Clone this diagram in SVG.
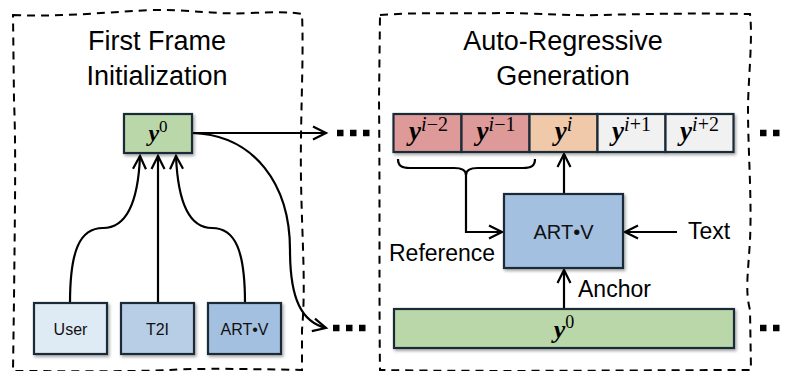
<svg xmlns="http://www.w3.org/2000/svg" width="786" height="371" viewBox="0 0 786 371">
<style>
.frame{fill:none;stroke:#000;stroke-width:2;stroke-dasharray:8 6}
.title{font-family:"Liberation Sans",Arial,sans-serif;font-size:27px;fill:#000;text-anchor:middle}
.lbl{font-family:"Liberation Sans",Arial,sans-serif;font-size:23px;fill:#000}
.box{stroke:#1c2a38;stroke-width:2.2}
.btxt{font-family:"Liberation Sans",Arial,sans-serif;font-size:16px;fill:#111;text-anchor:middle}
.math{font-family:"Liberation Serif","Times New Roman",serif;fill:#000;text-anchor:middle}
.v{font-weight:bold;font-style:italic}
.sup{font-weight:normal}
.conn path,.conn line{fill:none;stroke:#000;stroke-width:2.2}
.conn .dots{stroke:#000;stroke-width:6.5;stroke-dasharray:6.5 6.5;fill:none}
</style>
<defs>
<marker id="ah" markerUnits="userSpaceOnUse" markerWidth="18" markerHeight="18" refX="14" refY="8" orient="auto">
<path d="M1,1.5 L14,8 L1,14.5" fill="none" stroke="#000" stroke-width="2.2" stroke-linejoin="miter"/>
</marker>
<filter id="sh" x="-10%" y="-10%" width="130%" height="140%">
<feDropShadow dx="1.5" dy="2" stdDeviation="1.5" flood-color="#000" flood-opacity="0.35"/>
</filter>
</defs>

<!-- panels -->
<g id="panel-first">
<path class="frame" d="M13,15 C60,17 95,13 150,10 C190,9 215,15 250,13 C275,12 292,12 302,14 C304,60 300,120 301,180 C302,240 306,285 302,330 L302,370 C250,369 200,368 170,370 C120,372 60,371 13,371 L14,300 C15,200 16,150 14,100 Z"/>
<text class="title" x="157" y="50">First Frame</text>
<text class="title" x="157" y="85">Initialization</text>
</g>
<g id="panel-ar">
<path class="frame" d="M380,15 C420,12 460,14 500,13 C540,13 570,16 600,15 C640,14 690,13 750,14 C753,40 748,80 748,110 C748,150 752,200 750,240 C748,275 745,290 750,310 L751,370 C650,370 500,372 380,370 C379,300 380,200 379,100 Z"/>
<text class="title" x="563" y="50">Auto-Regressive</text>
<text class="title" x="563" y="85">Generation</text>
</g>

<!-- connectors -->
<g id="connectors" class="conn">
<path d="M70,303 C70,250 80,228 103,228 C125,228 138,205 140,156" marker-end="url(#ah)"/>
<line x1="158" y1="303" x2="158" y2="156" marker-end="url(#ah)"/>
<path d="M245,303 C245,250 235,228 212,228 C190,228 178,205 176,156" marker-end="url(#ah)"/>
<line x1="192" y1="133" x2="326" y2="133" marker-end="url(#ah)"/>
<path d="M192,133 C255,135 290,185 290,250 C290,300 302,322 326,328" marker-end="url(#ah)"/>
<path d="M398,159 C398,166 402,168 410,168 L454,168 C462,168 466,170 466,175 C466,170 470,168 478,168 L523,168 C531,168 535,166 535,159"/>
<path d="M466,172 L466,232 L502,232" marker-end="url(#ah)"/>
<line x1="564" y1="194" x2="564" y2="154" marker-end="url(#ah)"/>
<line x1="677" y1="232" x2="625" y2="232" marker-end="url(#ah)"/>
<line x1="564" y1="309" x2="564" y2="270" marker-end="url(#ah)"/>
<line class="dots" x1="337" y1="133" x2="372" y2="133"/>
<line class="dots" x1="333" y1="328" x2="372" y2="328"/>
<line class="dots" x1="760" y1="133" x2="786" y2="133"/>
<line class="dots" x1="760" y1="328" x2="786" y2="328"/>
</g>

<!-- left nodes -->
<g id="node-y0-left">
<rect class="box" x="124" y="114" width="68" height="39" fill="#b9d7a8" filter="url(#sh)"/>
<text class="math" x="158" y="141" font-size="24"><tspan class="v">y</tspan><tspan class="sup" font-size="17" dy="-9">0</tspan></text>
</g>
<g id="node-user">
<rect class="box" x="34" y="303" width="73" height="51" fill="#deeaf4" filter="url(#sh)"/>
<text class="btxt" x="70.5" y="335">User</text>
</g>
<g id="node-t2i">
<rect class="box" x="121" y="303" width="73" height="51" fill="#b8cde6" filter="url(#sh)"/>
<text class="btxt" x="157.5" y="335">T2I</text>
</g>
<g id="node-artv-left">
<rect class="box" x="208" y="303" width="73" height="51" fill="#a3c0e0" filter="url(#sh)"/>
<text class="btxt" x="244.5" y="335">ART•V</text>
</g>

<!-- right nodes -->
<g id="node-frames" filter="url(#sh)">
<rect class="box" x="393.5" y="114" width="68" height="38" fill="#dd9a98"/>
<rect class="box" x="461.5" y="114" width="68" height="38" fill="#dd9a98"/>
<rect class="box" x="529.5" y="114" width="68" height="38" fill="#f0c9ab"/>
<rect class="box" x="597.5" y="114" width="68" height="38" fill="#f1f1f1"/>
<rect class="box" x="665.5" y="114" width="68" height="38" fill="#f1f1f1"/>
</g>
<g id="frame-labels">
<text class="math" x="428.5" y="140" font-size="27"><tspan class="v">y</tspan><tspan class="sup" font-size="20" dy="-9"><tspan font-style="italic">i</tspan>−2</tspan></text>
<text class="math" x="496" y="140" font-size="27"><tspan class="v">y</tspan><tspan class="sup" font-size="20" dy="-9"><tspan font-style="italic">i</tspan>−1</tspan></text>
<text class="math" x="563.5" y="140" font-size="27"><tspan class="v">y</tspan><tspan class="sup" font-size="20" dy="-9" font-style="italic">i</tspan></text>
<text class="math" x="631.5" y="140" font-size="27"><tspan class="v">y</tspan><tspan class="sup" font-size="20" dy="-9"><tspan font-style="italic">i</tspan>+1</tspan></text>
<text class="math" x="699.5" y="140" font-size="27"><tspan class="v">y</tspan><tspan class="sup" font-size="20" dy="-9"><tspan font-style="italic">i</tspan>+2</tspan></text>
</g>
<g id="node-artv-right">
<rect class="box" x="504" y="194" width="119" height="74" fill="#a3c0e0" filter="url(#sh)"/>
<text class="btxt" x="563.5" y="239" style="font-size:20px">ART•V</text>
</g>
<g id="node-y0-right">
<rect class="box" x="394" y="309" width="340" height="39" fill="#b9d7a8" filter="url(#sh)"/>
<text class="math" x="564" y="338" font-size="26"><tspan class="v">y</tspan><tspan class="sup" font-size="18" dy="-10">0</tspan></text>
</g>
<g id="labels">
<text class="lbl" x="389" y="261">Reference</text>
<text class="lbl" x="688" y="239">Text</text>
<text class="lbl" x="578" y="297">Anchor</text>
</g>
</svg>
